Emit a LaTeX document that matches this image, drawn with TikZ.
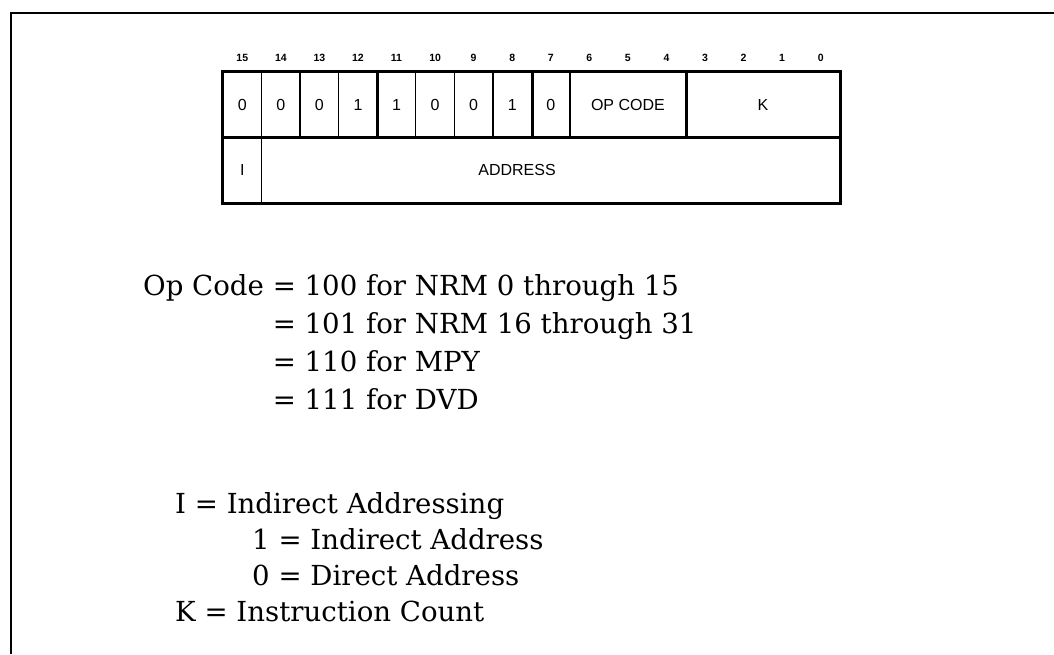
\documentclass[tikz,border=0pt]{standalone}
\usepackage{fontspec}
\setmainfont{DejaVu Serif}
\newfontfamily\cellfont{Liberation Sans}
\begin{document}
\begin{tikzpicture}[x=1pt,y=-1pt,
  cell/.style={draw,line width=1.3pt,inner sep=0pt,font=\cellfont\fontsize{16}{16}\selectfont},
  celltext/.style={inner sep=0pt,font=\cellfont\fontsize{16}{16}\selectfont},
  bitnum/.style={inner sep=0pt,font=\cellfont\bfseries\fontsize{10.5}{10.5}\selectfont},
  heavy/.style={line width=3pt},
  frameline/.style={line width=1.8pt},
  txt/.style={anchor=base west,inner sep=0pt,font=\fontsize{27.6}{27.6}\selectfont}]
\useasboundingbox (0,0) rectangle (1054,654);
% frame
\coordinate (fbl) at (11,654);
\coordinate (ftl) at (11,13);
\coordinate (ftr) at (1054,13);
\draw[frameline] (fbl) -- (ftl) -- (ftr);
\pgfmathsetmacro\w{38.5625}
% bit numbers
\foreach \i in {0,...,15} {
  \node[bitnum] (n\i) at ({223+(15-\i+0.5)*\w},58) {\i};
}
% top row single cells
\foreach \i/\t in {15/0,14/0,13/0,12/1,11/1,10/0,9/0,8/1,7/0} {
  \node[cell,minimum width=\w pt,minimum height=65pt] (b\i) at ({223+(15-\i+0.5)*\w},104.5) {\t};
}
\node[cell,minimum width={3*\w},minimum height=65pt] (op) at ({223+10.5*\w},104.5) {OP CODE};
\node[cell,minimum width={4*\w},minimum height=65pt] (k) at ({223+14*\w},104.5) {K};
% bottom row
\node[cell,minimum width=\w pt,minimum height=66pt] (ind) at ({223+0.5*\w},170) {I};
\node[cell,minimum width={15*\w},minimum height=66pt] (addr) at ({223+8.5*\w},170) {};
\node[celltext] (addrlabel) at (517,170) {ADDRESS};
% heavy borders
\draw[heavy] (b15.north west) rectangle (k.south east);
\draw[heavy] (b12.north east) -- (b12.south east);
\draw[heavy] (b8.north east) -- (b8.south east);
\draw[heavy] (op.north east) -- (op.south east);
\draw[line width=2.4pt] (ind.north west) |- (addr.south east) -- (addr.north east);
% op code text
\node[txt] (l1) at (143,295) {Op Code = 100 for NRM 0 through 15};
\node[txt] (l2) at (143,333) {\phantom{Op Code }= 101 for NRM 16 through 31};
\node[txt] (l3) at (143,371) {\phantom{Op Code }= 110 for MPY};
\node[txt] (l4) at (143,409) {\phantom{Op Code }= 111 for DVD};
% legend
\node[txt] (m1) at (175,513) {I = Indirect Addressing};
\node[txt] (m2) at (252,549) {1 = Indirect Address};
\node[txt] (m3) at (252,585) {0 = Direct Address};
\node[txt] (m4) at (175,621) {K = Instruction Count};
\end{tikzpicture}
\end{document}
